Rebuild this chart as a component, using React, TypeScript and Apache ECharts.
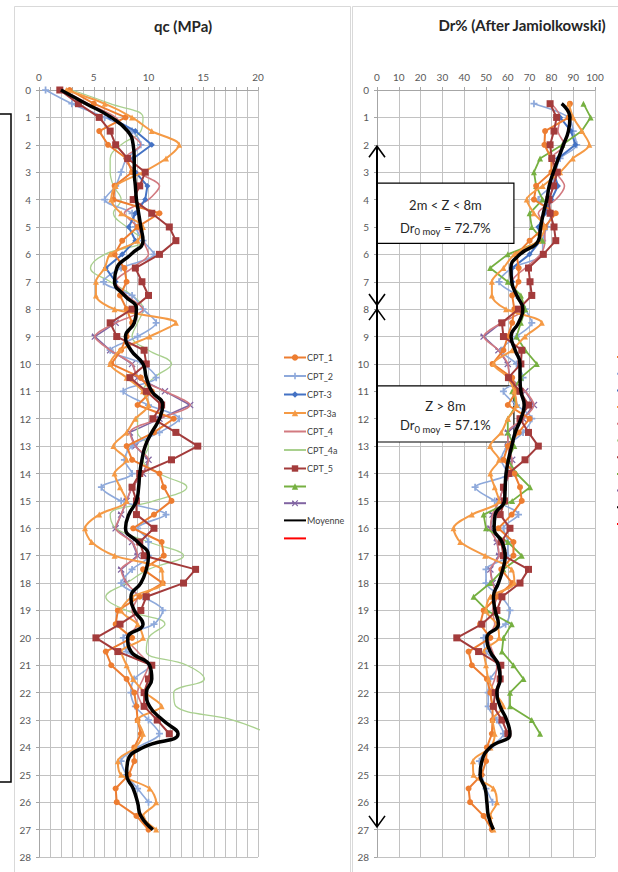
import React, { useEffect, useRef } from 'react';
import * as echarts from 'echarts';

const FONT = 'Lato, "Open Sans", "DejaVu Sans", sans-serif';

// Depth (m)
const DEPTHS = [0,0.5,1,1.5,2,2.5,3,3.5,4,4.5,5,5.5,6,6.5,7,7.5,8,8.5,9,9.5,10,10.5,11,11.5,12,12.5,13,13.5,14,14.5,15,15.5,16,16.5,17,17.5,18,18.5,19,19.5,20,20.5,21,21.5,22,22.5,23,23.5,24,24.5,25,25.5,26,26.5,27];

// qc (MPa)
const QC_CPT_1 = [2.8,5.0,7.9,5.5,6.3,8.0,8.5,6.9,6.8,11.0,9.0,7.6,6.9,7.8,8.0,7.4,8.0,8.5,8.0,7.5,6.6,9.3,10.3,9.0,12.3,10.5,8.0,8.5,11.0,11.4,12.1,10.5,8.6,11.2,11.4,9.5,11.3,9.2,7.2,7.0,8.5,6.1,6.6,8.0,8.7,8.9,9.0,9.3,8.7,8.7,8.2,7.0,7.1,8.9,10.0];
const QC_CPT_2 = [0.6,3.0,6.0,8.5,9.3,8.0,7.5,7.0,6.0,8.5,8.8,9.5,10.5,7.5,5.9,8.5,9.5,10.7,9.0,6.5,9.5,10.7,7.7,10.0,12.8,11.0,8.5,7.8,8.5,5.7,7.5,11.6,9.0,10.0,10.0,8.5,7.5,9.5,11.3,10.5,7.7,8.0,10.2,8.7,8.4,8.8,10.0,11.0,9.0,7.5,8.0,9.0,10.0];
const QC_CPT_3 = [null,null,6.5,8.8,10.3,8.6,8.8,9.9,9.7,8.8,8.2,8.8,7.6,6.1,7.0];
const QC_CPT_3A = [2.5,6.0,8.5,10.3,12.8,11.6,9.5,7.0,6.6,7.5,9.5,9.0,6.5,6.0,5.2,5.2,6.9,12.5,10.1,7.4,6.5,8.0,9.5,10.0,8.8,8.0,6.8,8.0,6.9,7.4,8.0,5.5,4.2,4.8,6.9,11.2,11.3,8.5,7.5,9.0,9.5,7.5,8.0,8.6,9.7,11.2,9.0,9.5,8.8,7.2,7.5,10.1,10.7,9.5,10.7];
const QC_CPT_4 = [2.2,4.5,7.0,8.0,9.3,7.8,9.0,11.0,10.0,7.8,9.0,9.5,10.0,8.5,7.0,8.0,9.5,7.0,5.1,6.5,8.5,9.0,11.5,13.8,11.0,8.3,8.8,10.0,9.5,8.5,8.0,7.5,7.0,8.5,9.0,7.5,8.0,9.0,8.5,9.0,8.0,9.0,10.0,9.5,9.0,9.5];
const QC_CPT_4A = [3.0,6.5,9.5,9.3,7.5,6.5,6.5,6.8,7.5,6.8,8.0,9.5,6.0,4.7,6.5,8.5,9.5,9.0,8.5,10.0,12.1,10.5,9.5,10.0,9.0,9.0,10.0,9.5,11.0,13.5,10.5,6.5,7.0,10.0,13.2,10.0,8.0,6.1,8.0,11.5,10.0,9.8,13.5,15.1,12.3,12.5,17.7,21.0];
const QC_CPT_5 = [1.9,3.6,5.5,6.5,7.0,8.1,9.7,9.2,8.6,10.3,11.9,12.5,11.0,8.8,9.4,10.0,8.5,6.5,7.1,9.6,9.8,8.3,9.8,11.2,10.4,12.5,14.5,12.1,9.2,8.5,8.9,8.9,10.5,9.2,9.6,14.3,13.2,9.8,9.3,7.4,5.2,7.2,10.3,10.0,9.6,9.6,10.8,11.9];
const QC_S8: (number | null)[] = [];
const QC_S9 = [null,null,null,null,null,null,null,null,null,null,null,null,null,null,null,null,null,7.0,5.1,6.5,8.5,9.0,11.5,13.8,11.0,8.3,8.8,10.0,9.5,8.5,8.0,7.5,7.0,8.5,9.0,7.5,8.0];
const QC_MOYENNE = [2.0,4.3,6.6,8.1,8.6,8.7,8.7,8.8,8.9,9.1,9.3,9.5,8.4,7.1,6.9,7.8,8.9,8.7,7.9,8.4,9.5,9.8,10.3,11.3,11.0,10.3,9.7,9.4,9.2,9.1,8.9,8.2,7.9,9.0,10.0,9.8,9.3,8.4,8.7,9.5,8.1,8.4,10.1,10.3,9.8,10.1,11.3,12.7,9.5,8.1,8.0,8.6,9.0,9.3,10.4];
const QC_S11: (number | null)[] = [];

// Dr (%)
const DR_CPT_1 = [null,88.5,88,77.1,76.8,80,80,73,72,82,77,70,64,65,64.9,62,63,62,60,58,53,62,64,60,70,65,60,58,63,65.6,66.4,61.8,55.7,62.6,62.6,57,62,55,48.9,47.3,52,42,43.5,50.4,52,53,53,52.7,50.4,50,48,42,42.7,48.9,52.7];
const DR_CPT_2 = [null,72,88,90,91.6,84,82,80,74,80,78,76,76,62,56,64,68,71,64,57,64,67,58,64,71,67,60,57,60,45,54,64.9,58,60,60,50,50,57,61,59,48.9,50,56,52,51,51,55,58,52,47,48,50,53];
const DR_CPT_3 = [null,null,84,89,91,83,81,83,80,77,74,75,70,62,62];
const DR_CPT_3A = [null,88,90,94,97.4,89.8,84,76,68.7,72,77,74,63,58,52.7,52.7,59.2,75.6,67.9,62,53.4,60,63,64,60,57,51.9,56,52,54,56,43.5,35.1,38.2,49.6,61.8,63,52,50,55,56,49,50,51.1,54,58,53,54,52,44,44.3,53.4,55,52,53.4];
const DR_CPT_4 = [null,80,84,83,86,80,82,86,82,74,77,77,75,68,62,64,67,57,48.9,55.7,60,61,68,72,67,60,60,62,61,58,56,53,52,55,56,52,53,55,53,54,51,53,55,54,52,53];
const DR_CPT_4A: (number | null)[] = [];
const DR_CPT_5 = [null,79.4,82.4,81.2,79.4,80.2,82.7,81,78.9,79.4,81.2,82,76.3,69.5,70.2,71,64.9,57.3,58,66.4,66,60.3,65.6,69.5,65.6,69.5,74,67.9,60.3,58,58.5,56.5,61,57,58,69.5,65.6,57.3,55,48.1,36.6,46.6,56.8,56.5,54.2,53.4,57.3,60];
const DR_S8 = [null,94.7,98,93.9,85,74.8,72,73,76,70,71,76,60,51.9,60,66,68,66,64,68,73.3,66,62,64,60,60,63,60,64,70.2,62,48.9,50,60,66.4,58,52,44.3,50.4,61.8,58,57.3,62.6,67.2,61,61,71,74.8];
const DR_S9 = [null,null,null,null,null,null,null,null,null,null,null,null,null,null,null,null,null,57,48.9,55.7,60,61,68,72,67,60,60,62,61,58,56,53,52,55,56,52,53];
const DR_MOYENNE = [null,84.7,88.5,87.8,85.5,83.2,80.9,79.0,77.9,76.3,75.1,74.0,65.6,61.4,61.8,64.1,66.9,64.9,61.5,63.4,65.6,65.6,66.0,67.5,66.0,63.4,61.8,60.3,59.2,58.8,58.5,54.2,53.7,57.3,58.8,57.7,55.7,53.4,54.2,55.7,50.4,51.9,55.7,56.5,55.0,56.5,59.5,61.0,51.9,48.1,47.3,49.6,50.4,51.1,53.4];
const DR_S11: (number | null)[] = [];

const LEGEND_ORDER = ['CPT_1','CPT_2','CPT-3','CPT-3a','CPT_4','CPT_4a','CPT_5','s8','s9','Moyenne','s11'];
const LEGEND_LABELS: Record<string, string> = {
  'CPT_1': 'CPT_1', 'CPT_2': 'CPT_2', 'CPT-3': 'CPT-3', 'CPT-3a': 'CPT-3a', 'CPT_4': 'CPT_4',
  'CPT_4a': 'CPT_4a', 'CPT_5': 'CPT_5', 's8': '', 's9': '', 'Moyenne': 'Moyenne', 's11': '',
};

const CROSS = 'path://M1,0L4,3L7,0L8,1L5,4L8,7L7,8L4,5L1,8L0,7L3,4L0,3Z';
const PLUS = 'path://M3,0H5V3H8V5H5V8H3V5H0V3H3Z';

type Def = { name: string; color: string; width: number; symbol: string; size: number; smooth: number | boolean; qc: (number | null)[]; dr: (number | null)[] };

// drawing order (later = on top)
const DEFS: Def[] = [
  { name: 's9', color: '#8064A2', width: 1.5, symbol: CROSS, size: 7, smooth: false, qc: QC_S9, dr: DR_S9 },
  { name: 'CPT_4a', color: '#A9D08E', width: 1.3, symbol: 'none', size: 0, smooth: 0.4, qc: QC_CPT_4A, dr: DR_CPT_4A },
  { name: 'CPT_2', color: '#8EA9DB', width: 1.6, symbol: PLUS, size: 7, smooth: 0.3, qc: QC_CPT_2, dr: DR_CPT_2 },
  { name: 'CPT_4', color: '#D27A80', width: 1.6, symbol: 'none', size: 0, smooth: 0.3, qc: QC_CPT_4, dr: DR_CPT_4 },
  { name: 'CPT-3', color: '#4472C4', width: 2, symbol: 'diamond', size: 6, smooth: false, qc: QC_CPT_3, dr: DR_CPT_3 },
  { name: 's8', color: '#76B041', width: 1.8, symbol: 'triangle', size: 6, smooth: false, qc: QC_S8, dr: DR_S8 },
  { name: 'CPT_1', color: '#ED7D31', width: 2, symbol: 'circle', size: 6, smooth: false, qc: QC_CPT_1, dr: DR_CPT_1 },
  { name: 'CPT-3a', color: '#F59A45', width: 2, symbol: 'triangle', size: 6, smooth: 0.3, qc: QC_CPT_3A, dr: DR_CPT_3A },
  { name: 'CPT_5', color: '#A33B3B', width: 2, symbol: 'rect', size: 7, smooth: false, qc: QC_CPT_5, dr: DR_CPT_5 },
  { name: 's11', color: '#FF0000', width: 2, symbol: 'none', size: 0, smooth: false, qc: QC_S11, dr: DR_S11 },
  { name: 'Moyenne', color: '#000000', width: 3.5, symbol: 'none', size: 0, smooth: 0.5, qc: QC_MOYENNE, dr: DR_MOYENNE },
];

const NO_MARKER = new Set(DEFS.filter((d) => d.symbol === 'none').map((d) => d.name));

const toPts = (vals: (number | null)[]) =>
  DEPTHS.map((z, i) => (vals[i] == null ? null : [vals[i] as number, z])).filter((p) => p !== null);

const GRID_COLOR = '#C2C2C2';
const AXIS_COLOR = '#A6A6A6';
const LABEL_COLOR = '#595959';

function xAxis(gi: number, max: number, interval: number, fmt: (v: number) => string) {
  return {
    gridIndex: gi, type: 'value', position: 'top', min: 0, max, interval,
    axisLine: { show: true, onZero: false, lineStyle: { color: AXIS_COLOR } },
    axisTick: { show: true, length: 3, lineStyle: { color: AXIS_COLOR } },
    axisLabel: { show: true, interval: 0, color: LABEL_COLOR, fontSize: 10, fontFamily: FONT, margin: 8, formatter: fmt },
    splitLine: { show: true, lineStyle: { color: GRID_COLOR, width: 1 } },
  };
}
function yAxis(gi: number) {
  return {
    gridIndex: gi, type: 'value', inverse: true, min: 0, max: 28, interval: 1,
    axisLine: { show: true, onZero: false, lineStyle: { color: AXIS_COLOR } },
    axisTick: { show: true, length: 3, lineStyle: { color: AXIS_COLOR } },
    axisLabel: { show: true, interval: 0, color: LABEL_COLOR, fontSize: 10, fontFamily: FONT, margin: 8 },
    splitLine: { show: true, lineStyle: { color: GRID_COLOR, width: 1 } },
  };
}

function legend(left: number, withText: boolean) {
  return {
    orient: 'vertical', left, top: 348, itemWidth: 22, itemHeight: 8, itemGap: 9.5,
    data: LEGEND_ORDER.map((n) => (NO_MARKER.has(n) ? { name: n, itemStyle: { opacity: 0 } } : { name: n })),
    formatter: (n: string) => (withText ? (LEGEND_LABELS[n] ?? n) : ''),
    textStyle: { fontSize: 9, color: '#404040', fontFamily: FONT, padding: [0, 0, 0, -4] },
    selectedMode: false,
  };
}

function buildOption() {
  const series: any[] = [];
  DEFS.forEach((d, k) => {
    [0, 1].forEach((g) => {
      series.push({
        type: 'line', name: d.name, xAxisIndex: g, yAxisIndex: g,
        data: toPts(g === 0 ? d.qc : d.dr),
        symbol: d.symbol, symbolSize: d.size, showSymbol: d.symbol !== 'none',
        smooth: d.smooth, clip: true, silent: true, z: 2 + k * 0.01,
        lineStyle: { color: d.color, width: d.width },
        itemStyle: { color: d.color },
      });
    });
  });
  return {
    animation: false,
    backgroundColor: '#ffffff',
    grid: [
      { left: 39, top: 90, width: 219, height: 767 },
      { left: 377, top: 90, width: 218, height: 767 },
    ],
    xAxis: [
      xAxis(0, 20, 1, (v: number) => (v % 5 === 0 ? String(v) : '')),
      xAxis(1, 100, 10, (v: number) => String(v)),
    ],
    yAxis: [yAxis(0), yAxis(1)],
    legend: [legend(278, true), legend(611, false)],
    series,
  };
}

function measure(text: string, font: string) {
  const c = document.createElement('canvas').getContext('2d')!;
  c.font = font;
  return c.measureText(text).width;
}

function textEl(x: number, y: number, text: string, font: string, align = 'center', z = 5) {
  return {
    type: 'text', x, y, z, silent: true,
    style: { text, font, fill: '#262626', textAlign: align, align, textVerticalAlign: 'middle', verticalAlign: 'middle' },
  };
}

function buildGraphic(chart: any) {
  const P = (x: number, z: number) => chart.convertToPixel({ gridIndex: 1 }, [x, z]) as number[];
  const els: any[] = [];
  // panel borders
  els.push({ type: 'rect', z: 0, silent: true, shape: { x: 14.5, y: 6.5, width: 336, height: 900 }, style: { fill: 'none', stroke: '#D9D9D9', lineWidth: 1 } });
  els.push({ type: 'rect', z: 0, silent: true, shape: { x: 352.5, y: 6.5, width: 300, height: 900 }, style: { fill: 'none', stroke: '#D9D9D9', lineWidth: 1 } });
  // partial box at far left
  els.push({ type: 'rect', z: 0, silent: true, shape: { x: -5, y: 114, width: 16, height: 668 }, style: { fill: 'none', stroke: '#000', lineWidth: 1.5 } });
  // titles
  els.push(textEl(183, 26, 'qc (MPa)', `bold 15px ${FONT}`));
  els.push(textEl(522, 25, 'Dr% (After Jamiolkowski)', `bold 15px ${FONT}`));

  // boxes
  const box = (z1: number, z2: number, xr: number) => {
    const a = P(0, z1), b = P(xr, z2);
    return { type: 'rect', z: 1, silent: true, shape: { x: a[0], y: a[1], width: b[0] - a[0], height: b[1] - a[1] }, style: { fill: '#ffffff', stroke: '#000', lineWidth: 1.2 } };
  };
  els.push(box(3.4, 5.6, 62.8));
  els.push(box(10.8, 12.85, 62.8));

  const cx = (P(0, 0)[0] + P(62.8, 0)[0]) / 2;
  const mainFont = `13px ${FONT}`;
  const subFont = `9.5px ${FONT}`;
  const drLine = (z: number, rest: string) => {
    const y = P(0, z)[1];
    const w1 = measure('Dr', mainFont), w2 = measure('0 moy', subFont), w3 = measure(rest, mainFont);
    const x0 = cx - (w1 + w2 + w3) / 2;
    return [
      textEl(x0, y, 'Dr', mainFont, 'left'),
      textEl(x0 + w1, y + 4, '0 moy', subFont, 'left'),
      textEl(x0 + w1 + w2, y, rest, mainFont, 'left'),
    ];
  };
  els.push(textEl(cx, P(0, 4.2)[1], '2m < Z < 8m', mainFont));
  els.push(...drLine(5.02, ' = 72.7%'));
  els.push(textEl(cx, P(0, 11.52)[1], 'Z > 8m', mainFont));
  els.push(...drLine(12.23, ' = 57.1%'));

  // arrows along the depth axis
  const x0 = P(0, 0)[0];
  const yA = P(0, 2.05)[1], yB = P(0, 7.85)[1], yC = P(0, 8.0)[1], yD = P(0, 26.9)[1];
  els.push({ type: 'polyline', z: 6, silent: true, shape: { points: [[x0, yA], [x0, yD]] }, style: { stroke: '#000', lineWidth: 2, fill: 'none' } });
  const head = (y: number, dir: number) => ({
    type: 'polyline', z: 6, silent: true,
    shape: { points: [[x0 - 8, y + dir * 11], [x0, y], [x0 + 8, y + dir * 11]] },
    style: { stroke: '#000', lineWidth: 1.6, fill: 'none' },
  });
  els.push(head(yA, 1), head(yB, -1), head(yC, 1), head(yD, -1));
  return els;
}

export default function App() {
  const ref = useRef<HTMLDivElement>(null);
  useEffect(() => {
    document.body.style.margin = '0';
    const el = ref.current!;
    const chart = echarts.init(el, undefined, { renderer: 'svg' });
    chart.setOption(buildOption() as any);
    chart.setOption({ graphic: buildGraphic(chart) } as any);
    return () => chart.dispose();
  }, []);
  return <div ref={ref} style={{ width: 618, height: 872, background: '#fff' }} />;
}
